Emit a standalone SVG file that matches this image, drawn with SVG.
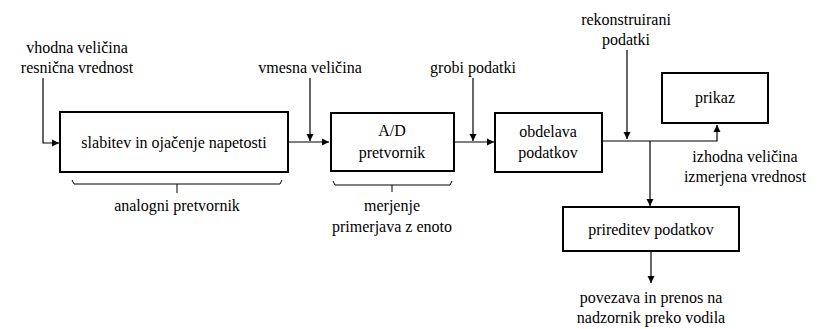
<svg xmlns="http://www.w3.org/2000/svg" width="819" height="329" viewBox="0 0 819 329">
<defs>
<marker id="arr" markerWidth="8" markerHeight="8" refX="7" refY="4" orient="auto" markerUnits="userSpaceOnUse">
<path d="M0,0.5 L7,4 L0,7.5 Z" fill="#000"/>
</marker>
<style>
.box{fill:#fff;stroke:#000;stroke-width:2}
.ln{fill:none;stroke:#000;stroke-width:1.2}
.br{fill:none;stroke:#000;stroke-width:1}
.t{font-family:Liberation Serif, DejaVu Serif, serif;font-size:16px;text-anchor:middle;fill:#000}
</style>
</defs>
<rect width="819" height="329" fill="#fff"/>
<g id="connectors">
<path class="ln" d="M43,78 V143 H59" marker-end="url(#arr)"/>
<path class="ln" d="M288,142 H329" marker-end="url(#arr)"/>
<path class="ln" d="M310,78 V141" marker-end="url(#arr)"/>
<path class="ln" d="M454,142 H494" marker-end="url(#arr)"/>
<path class="ln" d="M473,78 V141" marker-end="url(#arr)"/>
<path class="ln" d="M602,141 H717 V125" marker-end="url(#arr)"/>
<path class="ln" d="M627,50 V139" marker-end="url(#arr)"/>
<path class="ln" d="M650,141 V206" marker-end="url(#arr)"/>
<path class="ln" d="M651,251 V283" marker-end="url(#arr)"/>
</g>
<g class="t">
<g id="input">
<text x="77" y="53">vhodna veličina</text>
<text x="77" y="73">resnična vrednost</text>
</g>
<g id="vmesna">
<text x="310" y="73">vmesna veličina</text>
</g>
<g id="grobi">
<text x="473" y="73">grobi podatki</text>
</g>
<g id="rekon">
<text x="626" y="25">rekonstruirani</text>
<text x="626" y="45">podatki</text>
</g>
<g id="slabitev">
<rect class="box" x="60" y="112" width="228" height="60"/>
<text x="174" y="148">slabitev in ojačenje napetosti</text>
</g>
<g id="analogni">
<path class="br" d="M72,180 L74,184 H280 L282,180 M177,184 V193"/>
<text x="177" y="211">analogni pretvornik</text>
</g>
<g id="ad">
<rect class="box" x="331" y="113" width="123" height="58"/>
<text x="392" y="136">A/D</text>
<text x="392" y="158">pretvornik</text>
</g>
<g id="merjenje">
<path class="br" d="M333,181 L335,185 H450 L452,181 M392,185 V192"/>
<text x="392" y="211">merjenje</text>
<text x="392" y="232">primerjava z enoto</text>
</g>
<g id="obdelava">
<rect class="box" x="495" y="113" width="107" height="59"/>
<text x="548" y="137">obdelava</text>
<text x="548" y="158">podatkov</text>
</g>
<g id="prikaz">
<rect class="box" x="662" y="73" width="106" height="50"/>
<text x="715" y="103">prikaz</text>
</g>
<g id="izhodna">
<text x="745" y="162">izhodna veličina</text>
<text x="745" y="182">izmerjena vrednost</text>
</g>
<g id="prireditev">
<rect class="box" x="563" y="207" width="176" height="44"/>
<text x="651" y="235">prireditev podatkov</text>
</g>
<g id="povezava">
<text x="651" y="303">povezava in prenos na</text>
<text x="651" y="323">nadzornik preko vodila</text>
</g>
</g>
</svg>
